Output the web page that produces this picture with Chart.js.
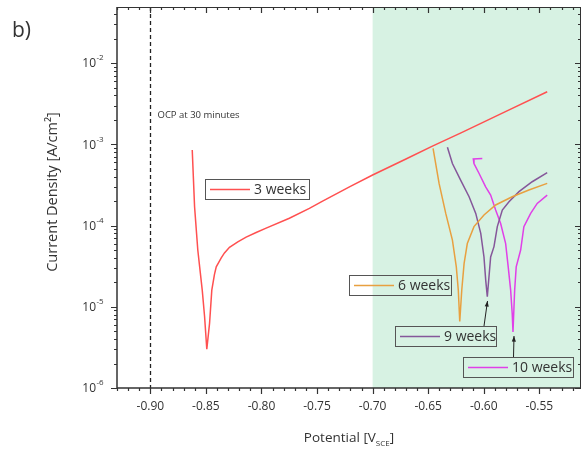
<!DOCTYPE html>
<html>
<head>
<meta charset="utf-8">
<script src="https://cdn.jsdelivr.net/npm/chart.js@4.4.1/dist/chart.umd.min.js"></script>
<style>
  body { margin: 0; background: #fff; }
  #wrap { position: relative; width: 583px; height: 449px; }
</style>
</head>
<body>
<div id="wrap"><canvas id="myChart" width="583" height="449"></canvas></div>
<script>
// potential [V vs SCE] and current density [A/cm2]
const weeks3X = [-0.8623, -0.8602, -0.8573, -0.8533, -0.8512, -0.8492, -0.8467, -0.8447, -0.8423, -0.8407, -0.8362, -0.8333, -0.8288, -0.8213, -0.8138, -0.8048, -0.7958, -0.7749, -0.7569, -0.745, -0.72, -0.70, -0.67, -0.6462, -0.62, -0.58, -0.5429];
const weeks3Y = [8.5e-4, 1.7e-4, 5.0e-5, 1.6e-5, 7.6e-6, 3.0e-6, 6.3e-6, 1.6e-5, 2.5e-5, 3.1e-5, 4.0e-5, 4.6e-5, 5.4e-5, 6.3e-5, 7.2e-5, 8.2e-5, 9.3e-5, 1.23e-4, 1.63e-4, 2.0e-4, 3.03e-4, 4.19e-4, 6.6e-4, 9.5e-4, 1.39e-3, 2.54e-3, 4.44e-3];

const weeks6X = [-0.6456, -0.6402, -0.6342, -0.6282, -0.6247, -0.6229, -0.6216, -0.6198, -0.6177, -0.6148, -0.6088, -0.5998, -0.5893, -0.5744, -0.5594, -0.5429];
const weeks6Y = [8.9e-4, 3.3e-4, 1.41e-4, 6.6e-5, 3.1e-5, 1.6e-5, 6.6e-6, 1.6e-5, 3.4e-5, 6.0e-5, 9.7e-5, 1.35e-4, 1.79e-4, 2.26e-4, 2.74e-4, 3.3e-4];

const weeks9X = [-0.6327, -0.6282, -0.6207, -0.6132, -0.6072, -0.6027, -0.5998, -0.5982, -0.5968, -0.5938, -0.5908, -0.5878, -0.5833, -0.5773, -0.5683, -0.5564, -0.5429];
const weeks9Y = [9.2e-4, 5.8e-4, 3.6e-4, 2.26e-4, 1.41e-4, 8.0e-5, 4.1e-5, 2.1e-5, 1.33e-5, 4.1e-5, 5.5e-5, 9.7e-5, 1.55e-4, 1.96e-4, 2.61e-4, 3.46e-4, 4.47e-4];

const weeks10X = [-0.6013, -0.6094, -0.6088, -0.6043, -0.5983, -0.5938, -0.5893, -0.5848, -0.5803, -0.578, -0.5758, -0.5744, -0.5737, -0.5722, -0.5708, -0.5668, -0.5639, -0.5578, -0.5519, -0.5429];
const weeks10Y = [6.7e-4, 6.6e-4, 5.8e-4, 4.4e-4, 3.0e-4, 2.37e-4, 1.55e-4, 1.06e-4, 6.0e-5, 3.1e-5, 1.6e-5, 8.3e-6, 4.9e-6, 1.6e-5, 3.1e-5, 5.0e-5, 9.7e-5, 1.41e-4, 1.87e-4, 2.37e-4];

const xTickLabels = ['-0.90', '-0.85', '-0.80', '-0.75', '-0.70', '-0.65', '-0.60', '-0.55'];
const yExponents = [-6, -5, -4, -3, -2];
const ocpPotential = -0.90;
const shadeFrom = -0.70;

function pts(xs, ys) {
  return xs.map((v, i) => ({x: v, y: ys[i]}));
}

const FONT = '"Open Sans", "DejaVu Sans", sans-serif';

function legendBox(ctx, x, y, w, label, color) {
  ctx.strokeStyle = '#555';
  ctx.lineWidth = 1;
  ctx.strokeRect(x + 0.5, y + 0.5, w, 20);
  ctx.strokeStyle = color;
  ctx.lineWidth = 1.5;
  ctx.beginPath();
  ctx.moveTo(x + 5, y + 10.5);
  ctx.lineTo(x + 45, y + 10.5);
  ctx.stroke();
  ctx.fillStyle = '#333';
  ctx.font = '14px ' + FONT;
  ctx.textAlign = 'left';
  ctx.textBaseline = 'middle';
  ctx.fillText(label, x + 49, y + 11);
}

function arrow(ctx, x1, y1, x2, y2) {
  ctx.strokeStyle = '#222';
  ctx.fillStyle = '#222';
  ctx.lineWidth = 1;
  ctx.beginPath();
  ctx.moveTo(x1, y1);
  ctx.lineTo(x2, y2);
  ctx.stroke();
  const ang = Math.atan2(y2 - y1, x2 - x1);
  ctx.beginPath();
  ctx.moveTo(x2, y2);
  ctx.lineTo(x2 - 6 * Math.cos(ang - 0.35), y2 - 6 * Math.sin(ang - 0.35));
  ctx.lineTo(x2 - 6 * Math.cos(ang + 0.35), y2 - 6 * Math.sin(ang + 0.35));
  ctx.closePath();
  ctx.fill();
}

const overlay = {
  id: 'overlay',
  beforeDatasetsDraw(chart) {
    const {ctx, chartArea: a, scales: {x, y}} = chart;
    ctx.save();
    // green region
    const gx = x.getPixelForValue(shadeFrom);
    ctx.fillStyle = '#d7f2e3';
    ctx.fillRect(gx, a.top, a.right - gx, a.bottom - a.top);
    // OCP dashed line
    const ox = Math.round(x.getPixelForValue(ocpPotential)) + 0.5;
    ctx.strokeStyle = '#222';
    ctx.lineWidth = 1.3;
    ctx.setLineDash([4, 3]);
    ctx.beginPath();
    ctx.moveTo(ox, a.top);
    ctx.lineTo(ox, a.bottom);
    ctx.stroke();
    ctx.setLineDash([]);
    ctx.fillStyle = '#333';
    ctx.font = '9.5px ' + FONT;
    ctx.textBaseline = 'middle';
    ctx.fillText('OCP at 30 minutes', ox + 7, 115);
    ctx.restore();
  },
  afterDatasetsDraw(chart) {
    const {ctx, chartArea: a, scales: {x, y}} = chart;
    ctx.save();
    // frame
    ctx.strokeStyle = '#333';
    ctx.lineWidth = 1.5;
    ctx.beginPath();
    ctx.moveTo(a.left, a.top);
    ctx.lineTo(a.left, a.bottom);
    ctx.lineTo(a.right, a.bottom);
    ctx.stroke();
    ctx.lineWidth = 1;
    ctx.beginPath();
    ctx.moveTo(a.left, a.top + 0.5);
    ctx.lineTo(a.right, a.top + 0.5);
    ctx.moveTo(a.right - 0.5, a.top);
    ctx.lineTo(a.right - 0.5, a.bottom);
    ctx.stroke();

    // x ticks every 0.01, major every 0.05
    ctx.lineWidth = 1.2;
    ctx.strokeStyle = '#333';
    for (let k = -93; k <= -52; k++) {
      const px = Math.round(x.getPixelForValue(k / 100)) + 0.5;
      const major = k % 5 === 0;
      const len = major ? 6 : 3;
      ctx.beginPath();
      ctx.moveTo(px, a.bottom);
      ctx.lineTo(px, a.bottom + len);
      ctx.moveTo(px, a.top);
      ctx.lineTo(px, a.top + len);
      ctx.stroke();
    }
    ctx.fillStyle = '#333';
    ctx.font = '12px ' + FONT;
    ctx.textAlign = 'center';
    ctx.textBaseline = 'middle';
    xTickLabels.forEach(t => {
      ctx.fillText(t, x.getPixelForValue(parseFloat(t)), 407);
    });

    // y ticks (log)
    for (let e = -6; e <= -2; e++) {
      for (let m = 1; m <= 9; m++) {
        const v = m * Math.pow(10, e);
        if (v > y.max) break;
        const py = Math.round(y.getPixelForValue(v)) + 0.5;
        const len = m === 1 ? 6 : 3;
        ctx.beginPath();
        ctx.moveTo(a.left, py);
        ctx.lineTo(a.left - len, py);
        ctx.moveTo(a.right, py);
        ctx.lineTo(a.right - len, py);
        ctx.stroke();
      }
    }
    yExponents.forEach(e => {
      const py = y.getPixelForValue(Math.pow(10, e));
      ctx.font = '12px ' + FONT;
      ctx.textAlign = 'right';
      ctx.fillText('10', 96, py + 1);
      ctx.font = '8px ' + FONT;
      ctx.textAlign = 'left';
      ctx.fillText(String(e), 96.5, py - 5);
    });

    // axis titles
    ctx.font = '13.5px ' + FONT;
    ctx.textAlign = 'left';
    ctx.textBaseline = 'alphabetic';
    const t1 = 'Potential [V';
    const w1 = ctx.measureText(t1).width;
    ctx.font = '8px ' + FONT;
    const w2 = ctx.measureText('SCE').width;
    ctx.font = '13.5px ' + FONT;
    const w3 = ctx.measureText(']').width;
    let sx = 349 - (w1 + w2 + w3) / 2;
    ctx.fillText(t1, sx, 442);
    ctx.font = '8px ' + FONT;
    ctx.fillText('SCE', sx + w1, 446);
    ctx.font = '13.5px ' + FONT;
    ctx.fillText(']', sx + w1 + w2, 442);

    ctx.save();
    ctx.translate(57, 192);
    ctx.rotate(-Math.PI / 2);
    ctx.textAlign = 'center';
    ctx.font = '14.5px ' + FONT;
    ctx.fillText('Current Density [A/cm²]', 0, 0);
    ctx.restore();

    ctx.font = '21px ' + FONT;
    ctx.textAlign = 'left';
    ctx.textBaseline = 'middle';
    ctx.fillText('b)', 12, 31);

    // legends
    legendBox(ctx, 205, 179, 104, '3 weeks', '#ff5050');
    legendBox(ctx, 349, 275, 102, '6 weeks', '#e8a040');
    legendBox(ctx, 395, 326, 101, '9 weeks', '#85579a');
    legendBox(ctx, 463, 357, 110, '10 weeks', '#e040e8');

    arrow(ctx, 484, 326, 487.5, 301);
    arrow(ctx, 513.5, 357, 514, 336);
    ctx.restore();
  }
};

const ctx = document.getElementById('myChart');
new Chart(ctx, {
  type: 'line',
  data: {
    datasets: [
      {label: '6 weeks', data: pts(weeks6X, weeks6Y), borderColor: '#e8a040'},
      {label: '9 weeks', data: pts(weeks9X, weeks9Y), borderColor: '#85579a'},
      {label: '10 weeks', data: pts(weeks10X, weeks10Y), borderColor: '#e040e8'},
      {label: '3 weeks', data: pts(weeks3X, weeks3Y), borderColor: '#ff5050'}
    ]
  },
  options: {
    responsive: false,
    devicePixelRatio: 1,
    animation: false,
    layout: {padding: {left: 117, top: 7, right: 2, bottom: 61}},
    elements: {
      point: {radius: 0},
      line: {borderWidth: 1.5, tension: 0, fill: false}
    },
    scales: {
      x: {type: 'linear', min: -0.930, max: -0.5125, display: false},
      y: {type: 'logarithmic', min: 1e-6, max: 0.049, display: false}
    },
    plugins: {legend: {display: false}, tooltip: {enabled: false}}
  },
  plugins: [overlay]
});
</script>
</body>
</html>
